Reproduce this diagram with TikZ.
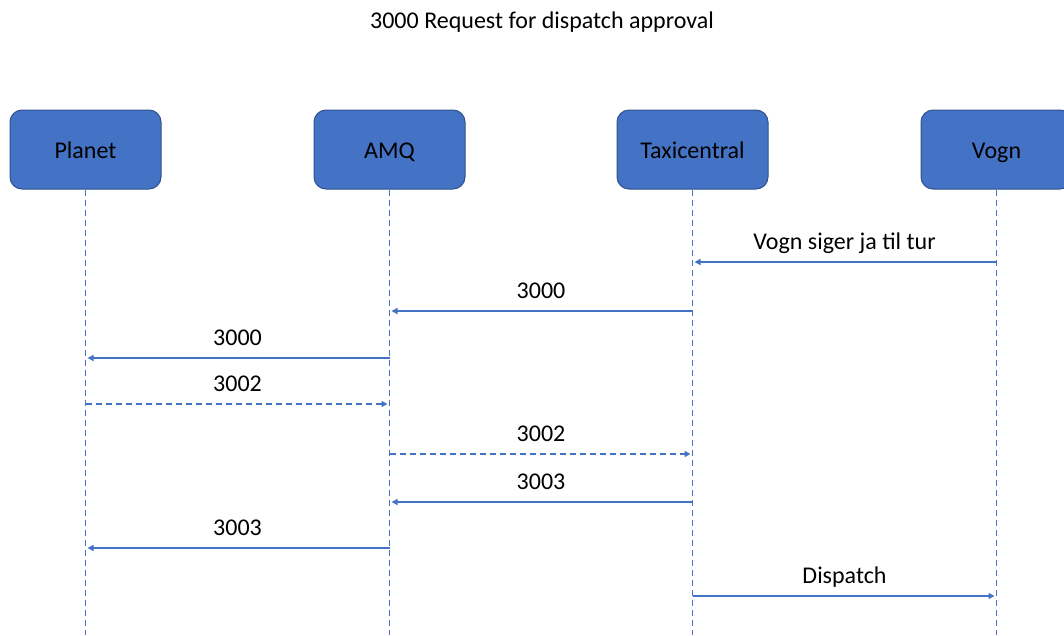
\documentclass[tikz,border=0pt]{standalone}
\usepackage{fontspec}
\setmainfont{Carlito}
\usetikzlibrary{arrows.meta}
\definecolor{boxblue}{HTML}{4472C4}
\definecolor{boxedge}{HTML}{2F528F}
\tikzset{
	actorbox/.style={draw=boxedge, fill=boxblue, line width=1pt, rounded corners=12pt, minimum width=151pt, minimum height=79pt, text height=17pt, text depth=0pt, font=\fontsize{24}{28}\selectfont},
	lifeline/.style={draw=boxblue, line width=0.8pt, dash pattern=on 6pt off 4pt},
	msg/.style={draw=boxblue, line width=2pt, -{Triangle[length=6pt,width=6pt]}, shorten >=2pt},
	reply/.style={msg, line width=1.6pt, dash pattern=on 6pt off 4pt},
	msglabel/.style={above=2.5pt, inner sep=3pt, text height=17pt, text depth=6pt, font=\fontsize{24}{28}\selectfont}
}
\newcommand{\actor}[3]{
	\node[actorbox] (#1) at (#2pt,-149.5pt) {#3};
	\coordinate (#1_end) at (#2pt,-635pt);
	\draw[lifeline] (#1.south) -- (#1_end);
}
\newcommand{\sendmsg}[5]{
	\draw[#5] (#1 |- 0,-#3pt) -- node[msglabel] {#4} (#2 |- 0,-#3pt);
}

\begin{document}
\begin{tikzpicture}
		\useasboundingbox (0,0) rectangle (1064pt,-635pt);
		\node[font=\fontsize{24}{28}\selectfont] (title) at (542pt,-22pt) {3000 Request for dispatch approval};

		\actor{planet}{85.5}{Planet};
		\actor{amq}{389.5}{AMQ};
		\actor{taxi}{692.5}{Taxicentral};
		\actor{vogn}{996.5}{Vogn};

		\sendmsg{vogn}{taxi}{262}{Vogn siger ja til tur}{msg};
		\sendmsg{taxi}{amq}{311}{3000}{msg};
		\sendmsg{amq}{planet}{358}{3000}{msg};
		\sendmsg{planet}{amq}{404}{3002}{reply};
		\sendmsg{amq}{taxi}{454}{3002}{reply};
		\sendmsg{taxi}{amq}{502}{3003}{msg};
		\sendmsg{amq}{planet}{548}{3003}{msg};
		\sendmsg{taxi}{vogn}{596}{Dispatch}{msg};
	\end{tikzpicture}
\end{document}
